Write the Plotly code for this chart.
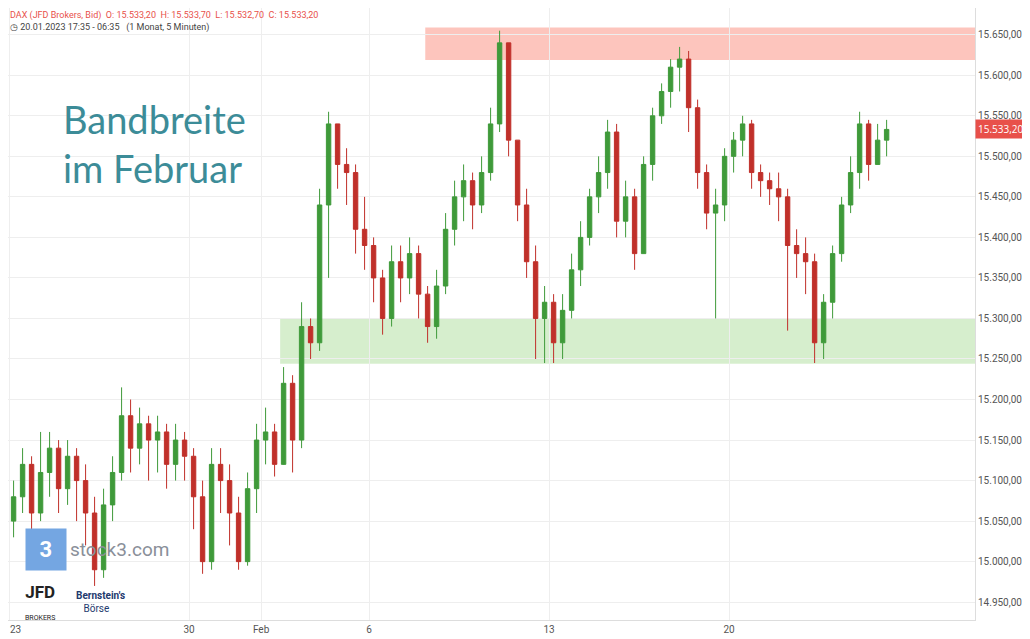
import plotly.graph_objects as go

# 4 bars per trading day, Jan 23 .. Feb 24 2023
closes = [15080,15120,15060,15110, 15140,15090,15130,15100, 15060,14990,15070,15110,
          15180,15140,15170,15150, 15160,15120,15150,15130, 15080,15000,15120,15100,
          15060,15000,15090,15150, 15160,15120,15220,15150, 15290,15270,15440,15540,
          15490,15480,15410,15390, 15350,15300,15370,15350, 15380,15330,15290,15340,
          15410,15450,15470,15440, 15480,15540,15640,15520, 15440,15370,15300,15320,
          15270,15310,15360,15400, 15450,15480,15530,15420, 15450,15380,15490,15550,
          15580,15610,15620,15560, 15480,15430,15440,15500, 15520,15540,15480,15470,
          15460,15450,15390,15380, 15370,15270,15320,15380, 15440,15480,15540,15490,
          15520,15533.2]
highs = [15100,15140,15130,15160, 15160,15150,15150,15140, 15120,15080,15090,15130,
         15215,15200,15190,15180, 15180,15170,15170,15160, 15140,15100,15140,15140,
         15120,15080,15110,15170, 15190,15170,15240,15230, 15320,15300,15460,15555,
         15540,15510,15490,15450, 15400,15360,15390,15390, 15400,15390,15340,15360,
         15430,15470,15490,15480, 15500,15560,15655,15640, 15520,15460,15390,15340,
         15330,15330,15380,15420, 15460,15500,15545,15540, 15470,15460,15500,15560,
         15590,15620,15635,15630, 15570,15490,15460,15510, 15530,15550,15545,15490,
         15480,15480,15460,15410, 15400,15380,15330,15390, 15450,15500,15555,15545,
         15540,15545]
lows = [15030,15060,15030,15050, 15080,15060,15070,15050, 15020,14970,14980,15050,
        15100,15110,15120,15100, 15110,15090,15100,15100, 15040,14985,14990,15060,
        15020,14990,14995,15060, 15120,15105,15130,15110, 15140,15250,15260,15350,
        15460,15440,15380,15360, 15320,15280,15290,15320, 15330,15300,15270,15275,
        15330,15390,15420,15410, 15430,15470,15530,15500, 15420,15350,15250,15245,
        15245,15250,15300,15340, 15390,15430,15460,15400, 15400,15360,15380,15470,
        15540,15560,15580,15530, 15460,15410,15300,15420, 15480,15500,15460,15450,
        15440,15420,15285,15350, 15330,15245,15250,15300, 15370,15430,15460,15470,
        15490,15500]
first_open = 15050

tick_days = [0, 5, 7, 10, 15, 20]
tick_labels = ["", "30", "Feb", "6", "13", "20"]

opens = [first_open] + closes[:-1]
xs = [i * 0.25 + 0.125 for i in range(len(closes))]

fig = go.Figure()
fig.add_trace(go.Candlestick(
    x=xs, open=opens, high=highs, low=lows, close=closes,
    increasing=dict(line=dict(color="#3f9a3a", width=1), fillcolor="#3f9a3a"),
    decreasing=dict(line=dict(color="#c0302a", width=1), fillcolor="#c0302a"),
    whiskerwidth=0, showlegend=False))

# resistance / support bands
fig.add_shape(type="rect", x0=7.53, x1=26.83, y0=15244, y1=15300, xref="x", yref="y",
              fillcolor="rgba(120,200,90,0.3)", line=dict(width=0), layer="below")
fig.add_shape(type="rect", x0=11.56, x1=26.83, y0=15619, y1=15659, xref="x", yref="y",
              fillcolor="rgba(250,110,90,0.4)", line=dict(width=0), layer="below")

# first day label (tick sits at the very left edge)
fig.add_annotation(x=0, xref="paper", y=-0.004, yref="paper", xanchor="left", yanchor="top",
                   text="23", showarrow=False, font=dict(family="Roboto", size=10, color="#555"))
fig.add_annotation(x=1, xref="paper", xanchor="left", y=15533.2, yref="y",
                   text="15.533,20", showarrow=False, bgcolor="#e8504a",
                   font=dict(color="white", size=10), borderpad=2)
fig.add_annotation(x=0.055, xref="paper", y=0.86, yref="paper", xanchor="left", yanchor="top",
                   text="Bandbreite<br>im Februar", showarrow=False, align="left",
                   font=dict(family="Lato", size=38, color="#3c8c98"))
fig.add_annotation(x=0, xref="paper", y=1.0, yref="paper", xanchor="left", yanchor="top",
                   text="<span style='color:#e8504a'>DAX (JFD Brokers, Bid)  O: 15.533,20  H: 15.533,70  L: 15.532,70  C: 15.533,20</span>"
                        "<br>◷ 20.01.2023 17:35 - 06:35   (1 Monat, 5 Minuten)",
                   showarrow=False, align="left", font=dict(family="Roboto", size=9, color="#444"))
# logos as text
fig.add_annotation(x=0.018, xref="paper", y=0.115, yref="paper", xanchor="left", yanchor="middle",
                   text="<b> 3 </b>", showarrow=False, bgcolor="#74a6e2", borderpad=8,
                   font=dict(family="Roboto", size=22, color="white"))
fig.add_annotation(x=0.062, xref="paper", y=0.115, yref="paper", xanchor="left", yanchor="middle",
                   text="stock3.com", showarrow=False, font=dict(family="Roboto", size=19, color="#8a8f99"))
fig.add_annotation(x=0.015, xref="paper", y=0.03, yref="paper", xanchor="left", yanchor="middle",
                   text="<b>JFD</b><br><span style='font-size:7px'>BROKERS</span>", showarrow=False,
                   font=dict(family="Roboto", size=17, color="#222"))
fig.add_annotation(x=0.068, xref="paper", y=0.03, yref="paper", xanchor="left", yanchor="middle",
                   text="<b>Bernstein's</b><br>   Börse", showarrow=False, align="left",
                   font=dict(family="Roboto", size=10, color="#1e3a6e"))

fig.update_layout(
    width=1022, height=631, margin=dict(l=0, r=55, t=0, b=19),
    plot_bgcolor="white", paper_bgcolor="white", separators=",.",
    xaxis=dict(range=[-0.03, 26.83], tickvals=tick_days, ticktext=tick_labels,
               showgrid=True, gridcolor="#eeeeee", rangeslider=dict(visible=False),
               tickfont=dict(family="Roboto", size=10, color="#555"), zeroline=False,
               showline=True, linecolor="#dddddd"),
    yaxis=dict(range=[14928, 15683], side="right", dtick=50, tickformat=",.2f",
               showgrid=True, gridcolor="#eeeeee", zeroline=False,
               tickfont=dict(family="Roboto", size=10, color="#555"),
               showline=True, linecolor="#dddddd"),
)
fig.write_html("out.html")
